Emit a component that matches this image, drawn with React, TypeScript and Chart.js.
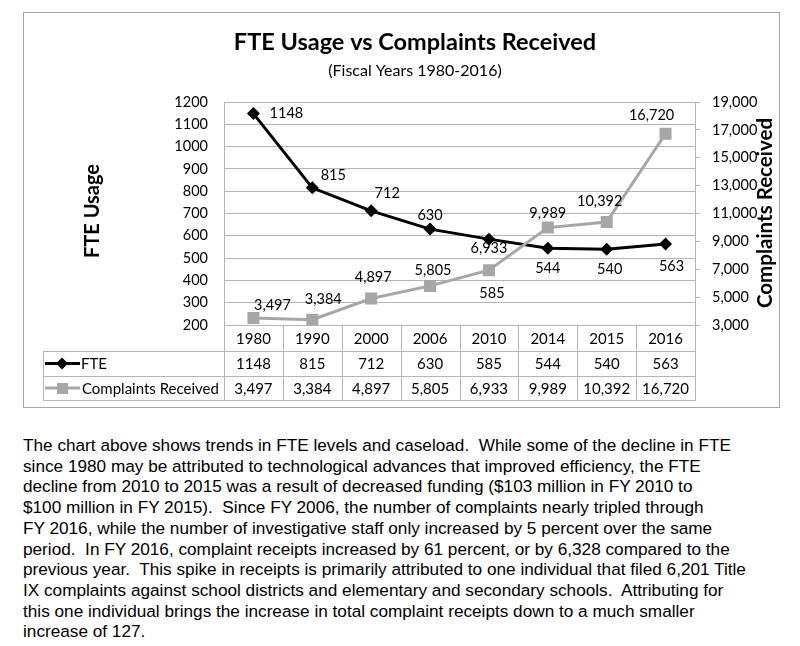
import React, { useEffect, useRef } from "react";
import { Chart, registerables } from "chart.js";

Chart.register(...registerables);

// ---------- data ----------
const YEARS = ["1980", "1990", "2000", "2006", "2010", "2014", "2015", "2016"];
const FTE = [1148, 815, 712, 630, 585, 544, 540, 563];
const COMPLAINTS = [3497, 3384, 4897, 5805, 6933, 9989, 10392, 16720];
const SERIES_NAMES = ["FTE", "Complaints Received"];
const FTE_AXIS = { min: 200, max: 1200, step: 100 };
const COMPLAINT_AXIS = { min: 3000, max: 19000, step: 2000 };
const TITLE = "FTE Usage vs Complaints Received";
const SUBTITLE = "(Fiscal Years 1980-2016)";
const LEFT_TITLE = "FTE Usage";
const RIGHT_TITLE = "Complaints Received";

const PARAGRAPH_LINES = [
  "The chart above shows trends in FTE levels and caseload.  While some of the decline in FTE",
  "since 1980 may be attributed to technological advances that improved efficiency, the FTE",
  "decline from 2010 to 2015 was a result of decreased funding ($103 million in FY 2010 to",
  "$100 million in FY 2015).  Since FY 2006, the number of complaints nearly tripled through",
  "FY 2016, while the number of investigative staff only increased by 5 percent over the same",
  "period.  In FY 2016, complaint receipts increased by 61 percent, or by 6,328 compared to the",
  "previous year.  This spike in receipts is primarily attributed to one individual that filed 6,201 Title",
  "IX complaints against school districts and elementary and secondary schools.  Attributing for",
  "this one individual brings the increase in total complaint receipts down to a much smaller",
  "increase of 127.",
];

// ---------- style ----------
const FONT = 'Lato, "Open Sans", sans-serif';
const GRID = "#b5b5b5";
const FTE_COLOR = "#000000";
const COMPLAINT_COLOR = "#a6a6a6";
// data label placement relative to each point (dx, dy)
const FTE_LABEL_OFFSETS = [[33, 0], [21, -13], [16, -17], [0, -14], [3, 54], [0, 20], [3, 20], [6, 22]];
const COMPLAINT_LABEL_OFFSETS = [[19, -13], [11, -20], [2, -21], [3, -16], [0, -22], [0, -14], [-7, -21], [-14, -18]];

const fmt = (v: number) => v.toLocaleString("en-US");

const hline = (ctx: CanvasRenderingContext2D, x1: number, x2: number, y: number) => {
  ctx.beginPath();
  ctx.moveTo(x1, Math.round(y) + 0.5);
  ctx.lineTo(x2, Math.round(y) + 0.5);
  ctx.stroke();
};
const vline = (ctx: CanvasRenderingContext2D, x: number, y1: number, y2: number) => {
  ctx.beginPath();
  ctx.moveTo(Math.round(x) + 0.5, y1);
  ctx.lineTo(Math.round(x) + 0.5, y2);
  ctx.stroke();
};

const decorPlugin = {
  id: "decor",
  afterDatasetsDraw(chart: any) {
    const ctx: CanvasRenderingContext2D = chart.ctx;
    const xs = chart.scales.x;
    const { left, right, bottom } = chart.chartArea;
    ctx.save();

    // titles
    ctx.fillStyle = "#000";
    ctx.textAlign = "center";
    ctx.textBaseline = "middle";
    ctx.font = `bold 23.5px ${FONT}`;
    ctx.fillText(TITLE, 391, 29);
    ctx.font = `16px ${FONT}`;
    ctx.fillText(SUBTITLE, 391, 58);

    ctx.save();
    ctx.translate(69, 198);
    ctx.rotate(-Math.PI / 2);
    ctx.font = `bold 20px ${FONT}`;
    ctx.fillText(LEFT_TITLE, 0, 0);
    ctx.restore();

    ctx.save();
    ctx.translate(741, 200);
    ctx.rotate(-Math.PI / 2);
    ctx.font = `bold 20.5px ${FONT}`;
    ctx.fillText(RIGHT_TITLE, 0, 0);
    ctx.restore();

    // data labels
    ctx.font = `14.5px ${FONT}`;
    const metaF = chart.getDatasetMeta(0);
    const metaC = chart.getDatasetMeta(1);
    metaF.data.forEach((pt: any, i: number) => {
      const [dx, dy] = FTE_LABEL_OFFSETS[i];
      ctx.fillText(String(FTE[i]), pt.x + dx, pt.y + dy);
    });
    metaC.data.forEach((pt: any, i: number) => {
      const [dx, dy] = COMPLAINT_LABEL_OFFSETS[i];
      ctx.fillText(fmt(COMPLAINTS[i]), pt.x + dx, pt.y + dy);
    });

    // data table
    const y0 = bottom;
    const y1 = y0 + 26;
    const y2 = y1 + 25;
    const y3 = y2 + 24;
    const tableLeft = 19;
    ctx.strokeStyle = GRID;
    ctx.lineWidth = 1;
    hline(ctx, left, right, y0);
    hline(ctx, tableLeft, right, y1);
    hline(ctx, tableLeft, right, y2);
    hline(ctx, tableLeft, right, y3);
    vline(ctx, tableLeft, Math.round(y1), Math.round(y3) + 1);
    const n = YEARS.length;
    const bounds: number[] = [left];
    for (let i = 1; i < n; i++) {
      bounds.push((xs.getPixelForValue(i - 1) + xs.getPixelForValue(i)) / 2);
    }
    bounds.push(right);
    bounds.forEach((b) => vline(ctx, b, Math.round(y0), Math.round(y3) + 1));

    ctx.fillStyle = "#000";
    ctx.font = `15px ${FONT}`;
    ctx.textAlign = "center";
    YEARS.forEach((yr, i) => {
      const cx = xs.getPixelForValue(i);
      ctx.fillText(yr, cx, (y0 + y1) / 2 + 1);
      ctx.fillText(String(FTE[i]), cx, (y1 + y2) / 2 + 1);
      ctx.fillText(fmt(COMPLAINTS[i]), cx, (y2 + y3) / 2 + 1);
    });

    // legend keys
    const r1 = (y1 + y2) / 2;
    const r2 = (y2 + y3) / 2;
    ctx.lineWidth = 3;
    ctx.strokeStyle = FTE_COLOR;
    ctx.beginPath();
    ctx.moveTo(21, r1);
    ctx.lineTo(56, r1);
    ctx.stroke();
    ctx.fillStyle = FTE_COLOR;
    ctx.beginPath();
    ctx.moveTo(38, r1 - 6);
    ctx.lineTo(44, r1);
    ctx.lineTo(38, r1 + 6);
    ctx.lineTo(32, r1);
    ctx.closePath();
    ctx.fill();

    ctx.strokeStyle = COMPLAINT_COLOR;
    ctx.beginPath();
    ctx.moveTo(21, r2);
    ctx.lineTo(56, r2);
    ctx.stroke();
    ctx.fillStyle = COMPLAINT_COLOR;
    ctx.fillRect(33, r2 - 5, 11, 11);

    ctx.fillStyle = "#000";
    ctx.textAlign = "left";
    ctx.fillText(SERIES_NAMES[0], 57, r1 + 1);
    ctx.fillText(SERIES_NAMES[1], 58, r2 + 1);

    ctx.restore();
  },
};

export default function App() {
  const canvasRef = useRef<HTMLCanvasElement | null>(null);

  useEffect(() => {
    if (!canvasRef.current) return;
    const chart = new Chart(canvasRef.current, {
      type: "line",
      data: {
        labels: YEARS,
        datasets: [
          {
            label: SERIES_NAMES[0],
            data: FTE,
            yAxisID: "y",
            borderColor: FTE_COLOR,
            backgroundColor: FTE_COLOR,
            borderWidth: 3,
            pointStyle: "rectRot",
            pointRadius: 6.5,
            pointHoverRadius: 6.5,
            pointBorderWidth: 0,
            tension: 0,
            order: 1,
          },
          {
            label: SERIES_NAMES[1],
            data: COMPLAINTS,
            yAxisID: "y1",
            borderColor: COMPLAINT_COLOR,
            backgroundColor: COMPLAINT_COLOR,
            borderWidth: 3,
            pointStyle: "rect",
            pointRadius: 8.5,
            pointHoverRadius: 8.5,
            pointBorderWidth: 0,
            tension: 0,
            order: 0,
          },
        ],
      },
      options: {
        animation: false,
        responsive: true,
        maintainAspectRatio: false,
        layout: { padding: { top: 89, left: 0, right: 0, bottom: 0 } },
        plugins: {
          legend: { display: false },
          title: { display: false },
          tooltip: { enabled: false },
        },
        scales: {
          x: {
            type: "category",
            offset: true,
            grid: { display: false },
            border: { display: false },
            ticks: { display: false },
            afterFit: (s: any) => {
              s.height = 82;
            },
          },
          y: {
            position: "left",
            min: FTE_AXIS.min,
            max: FTE_AXIS.max,
            ticks: {
              stepSize: FTE_AXIS.step,
              padding: 16,
              color: "#000",
              font: { family: FONT, size: 14.5 },
              callback: (v: any) => String(v),
            },
            grid: { color: GRID, drawTicks: false },
            border: { color: GRID },
            afterFit: (s: any) => {
              s.width = 200;
            },
          },
          y1: {
            position: "right",
            min: COMPLAINT_AXIS.min,
            max: COMPLAINT_AXIS.max,
            ticks: {
              stepSize: COMPLAINT_AXIS.step,
              padding: 12,
              color: "#000",
              font: { family: FONT, size: 14.5 },
              callback: (v: any) => fmt(Number(v)),
            },
            grid: { drawOnChartArea: false, drawTicks: true, tickLength: 5, color: GRID },
            border: { color: GRID },
            afterFit: (s: any) => {
              s.width = 84;
            },
          },
        },
      },
      plugins: [decorPlugin],
    });
    return () => chart.destroy();
  }, []);

  return (
    <div>
      <div
        style={{
          position: "relative",
          width: 755,
          height: 394,
          margin: "4px 0 0 15px",
          border: "1px solid #a6a6a6",
        }}
      >
        <canvas ref={canvasRef} />
      </div>
      <div
        style={{
          marginLeft: 15,
          marginTop: 27,
          fontFamily: '"Liberation Sans", Arial, sans-serif',
          fontSize: 17.2,
          lineHeight: "20.7px",
          color: "#000",
        }}
      >
        {PARAGRAPH_LINES.map((l, i) => (
          <div key={i} style={{ whiteSpace: "pre" }}>
            {l}
          </div>
        ))}
      </div>
    </div>
  );
}
